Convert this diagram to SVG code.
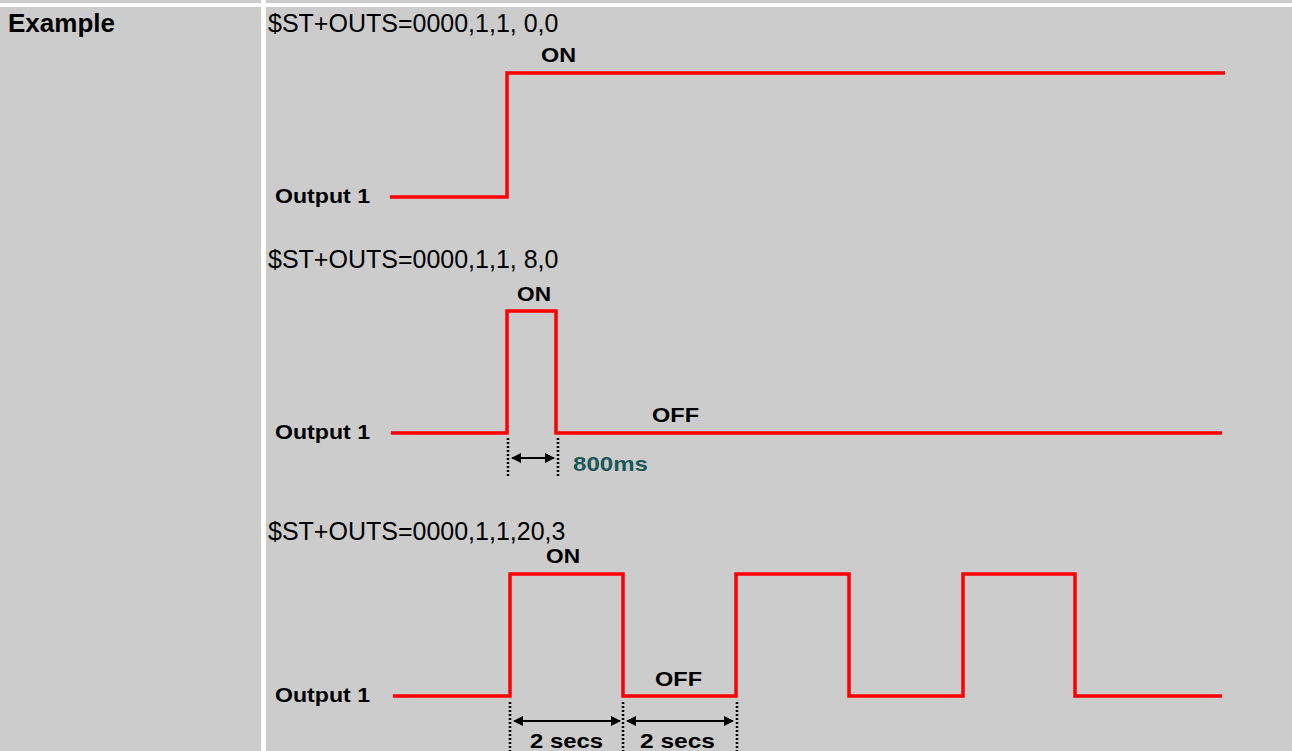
<svg xmlns="http://www.w3.org/2000/svg" width="1292" height="751" viewBox="0 0 1292 751">
<defs>
<style>
.cell{fill:#cccccc}
.title{font-family:"Liberation Sans",Arial,sans-serif;font-size:25px;fill:#000}
.head{font-family:"Liberation Sans",Arial,sans-serif;font-size:26px;font-weight:bold;fill:#000}
.lbl{font-family:"Liberation Sans",Arial,sans-serif;font-size:21px;font-weight:bold;fill:#000}
.teal{font-family:"Liberation Sans",Arial,sans-serif;font-size:21px;font-weight:bold;fill:#1d5858}
.wave{fill:none;stroke:#ff0000;stroke-width:3.5;stroke-linejoin:miter}
.dot{stroke:#000;stroke-width:2.5;stroke-dasharray:2 2}
.dim{stroke:#000;stroke-width:2;marker-start:url(#ah);marker-end:url(#ah)}
</style>
<marker id="ah" viewBox="0 0 10 10" refX="9" refY="5" markerWidth="5" markerHeight="5" orient="auto-start-reverse" markerUnits="strokeWidth">
<path d="M0,0 L10,5 L0,10 z" fill="#000"/>
</marker>
</defs>
<rect width="1292" height="751" fill="#ffffff"/>
<g id="table">
<rect class="cell" x="0" y="0" width="261" height="3"/>
<rect class="cell" x="266" y="0" width="1026" height="3"/>
<rect class="cell" x="0" y="7" width="261" height="744"/>
<rect class="cell" x="266" y="7" width="1026" height="744"/>
<text class="head" x="8" y="32" textLength="107">Example</text>
</g>
<g id="example1">
<text class="title" x="268" y="32">$ST+OUTS=0000,1,1, 0,0</text>
<text class="lbl" x="541" y="62" textLength="35" lengthAdjust="spacingAndGlyphs">ON</text>
<text class="lbl" x="275" y="203" textLength="95" lengthAdjust="spacingAndGlyphs">Output 1</text>
</g>
<g id="example2">
<text class="title" x="268" y="268">$ST+OUTS=0000,1,1, 8,0</text>
<text class="lbl" x="517" y="301" textLength="34" lengthAdjust="spacingAndGlyphs">ON</text>
<text class="lbl" x="652" y="422" textLength="47" lengthAdjust="spacingAndGlyphs">OFF</text>
<text class="lbl" x="275" y="439" textLength="95" lengthAdjust="spacingAndGlyphs">Output 1</text>
<text class="teal" x="573" y="471" textLength="75" lengthAdjust="spacingAndGlyphs">800ms</text>
</g>
<g id="example3">
<text class="title" x="268" y="540">$ST+OUTS=0000,1,1,20,3</text>
<text class="lbl" x="546" y="563" textLength="34" lengthAdjust="spacingAndGlyphs">ON</text>
<text class="lbl" x="655" y="686" textLength="47" lengthAdjust="spacingAndGlyphs">OFF</text>
<text class="lbl" x="275" y="702" textLength="95" lengthAdjust="spacingAndGlyphs">Output 1</text>
<text class="lbl" x="530" y="748" textLength="73" lengthAdjust="spacingAndGlyphs">2 secs</text>
<text class="lbl" x="640" y="748" textLength="75" lengthAdjust="spacingAndGlyphs">2 secs</text>
</g>
<g id="connectors">
<polyline class="wave" points="390,197 507,197 507,73 1225,73"/>
<polyline class="wave" points="391,433 507,433 507,311 556,311 556,433 1222,433"/>
<polyline class="wave" points="393,696 510,696 510,574 623,574 623,696 736,696 736,574 849,574 849,696 963,696 963,574 1075,574 1075,696 1222,696"/>
<line class="dot" x1="508" y1="438" x2="508" y2="478"/>
<line class="dot" x1="558" y1="438" x2="558" y2="478"/>
<line class="dim" x1="512" y1="458" x2="554" y2="458"/>
<line class="dot" x1="510" y1="702" x2="510" y2="751"/>
<line class="dot" x1="623" y1="702" x2="623" y2="751"/>
<line class="dot" x1="737" y1="702" x2="737" y2="751"/>
<line class="dim" x1="514" y1="721" x2="620" y2="721"/>
<line class="dim" x1="627" y1="721" x2="733" y2="721"/>
</g>
</svg>
